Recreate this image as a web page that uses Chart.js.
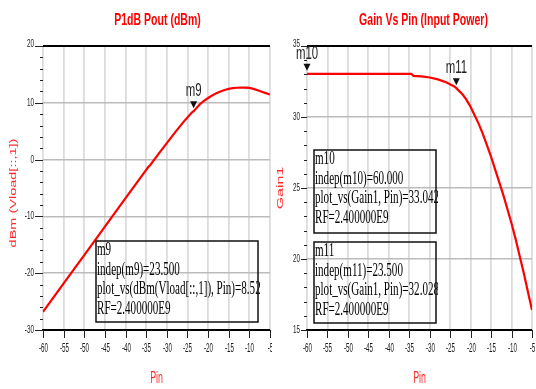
<!DOCTYPE html>
<html>
<head>
<meta charset="utf-8">
<script src="https://cdn.jsdelivr.net/npm/chart.js@4.4.1/dist/chart.umd.min.js"></script>
<style>
  html, body { margin: 0; padding: 0; background: #fff; }
  #wrap { position: relative; width: 536px; height: 389px; }
  canvas { position: absolute; top: 0; }
  #c1 { left: 0; }
  #c2 { left: 272px; }
</style>
</head>
<body>
<div id="wrap">
  <canvas id="c1" width="272" height="389"></canvas>
  <canvas id="c2" width="264" height="389"></canvas>
</div>
<script>
// swept input power (dBm)
const pin = [-60, -55, -50, -45, -40, -35, -34.5, -34, -32, -30, -28, -26, -24, -23.5, -22, -21,
  -20, -19, -18, -17, -16, -15, -14, -13, -12, -11, -10, -9, -8, -7, -6, -5];
// output power dBm(Vload[::,1])
const poutDbm = [-26.8, -21.8, -16.8, -11.8, -6.8, -1.8, -1.3, -0.95, 1.0, 2.9, 4.8, 6.6, 8.25, 8.53, 9.75, 10.35,
  10.85, 11.3, 11.7, 12.0, 12.25, 12.45, 12.6, 12.65, 12.68, 12.68, 12.62, 12.45, 12.2, 11.95, 11.7, 11.45];
// Gain1
const gain1 = [33.04, 33.04, 33.04, 33.04, 33.04, 33.04, 33.04, 32.9, 32.86, 32.78, 32.65, 32.45, 32.15, 32.03, 31.6, 31.2,
  30.7, 30.1, 29.5, 28.8, 28.0, 27.2, 26.3, 25.4, 24.5, 23.5, 22.5, 21.4, 20.2, 19.0, 17.7, 16.4];

const pinTicks = [-60, -55, -50, -45, -40, -35, -30, -25, -20, -15, -10, -5];
const poutTicks = [-30, -20, -10, 0, 10, 20];
const gainTicks = [15, 20, 25, 30, 35];

// markers: name, index into pin[], readout text
const m9 = { name: 'm9', idx: 13, lines: ['m9', 'indep(m9)=23.500', 'plot_vs(dBm(Vload[::,1]), Pin)=8.528', 'RF=2.400000E9'] };
const m10 = { name: 'm10', idx: 0, lines: ['m10', 'indep(m10)=60.000', 'plot_vs(Gain1, Pin)=33.042', 'RF=2.400000E9'] };
const m11 = { name: 'm11', idx: 13, lines: ['m11', 'indep(m11)=23.500', 'plot_vs(Gain1, Pin)=32.028', 'RF=2.400000E9'] };

function txt(ctx, s, x, y, o) {
  ctx.save();
  ctx.translate(x, y);
  if (o.rot) ctx.rotate(-Math.PI / 2);
  ctx.scale(o.sx || 1, o.sy || 1);
  ctx.font = o.font;
  ctx.fillStyle = o.color || '#000';
  ctx.textAlign = o.align || 'center';
  ctx.textBaseline = o.base || 'middle';
  ctx.fillText(s, 0, 0);
  ctx.restore();
}

// draws the ADS style frame, ticks, labels, markers and readout boxes
const adsFrame = {
  id: 'adsFrame',
  afterDraw(chart, args, opt) {
    const ctx = chart.ctx, a = chart.chartArea;
    const xs = chart.scales.x, ys = chart.scales.y;
    ctx.save();

    ctx.strokeStyle = '#000';
    ctx.lineWidth = 2;
    ctx.beginPath();
    ctx.moveTo(a.left, a.top); ctx.lineTo(a.right, a.top);
    ctx.moveTo(a.left - 1, a.bottom); ctx.lineTo(a.right, a.bottom);
    ctx.stroke();

    // y ticks, majors get a label
    ctx.lineWidth = 1;
    ctx.strokeStyle = '#222';
    ys.ticks.forEach(t => {
      const y = Math.round(ys.getPixelForValue(t.value)) + 0.5;
      const major = opt.yMajor.includes(t.value);
      ctx.beginPath();
      ctx.moveTo(a.left - (major ? opt.tickLen : 3), y);
      ctx.lineTo(a.left, y);
      ctx.stroke();
      if (major) {
        const dy = t.value === ys.max ? -3 : -1;
        txt(ctx, String(t.value), a.left - opt.tickLen - 1, y + dy,
          { font: '11.5px "Liberation Sans"', sx: 0.55, align: 'right', color: '#1a1a1a' });
      }
    });

    // x ticks below the axis
    pinTicks.forEach(v => {
      const x = Math.round(xs.getPixelForValue(v)) + 0.5;
      ctx.beginPath();
      ctx.moveTo(x, a.bottom); ctx.lineTo(x, a.bottom + 8);
      ctx.stroke();
      txt(ctx, String(v), x, a.bottom + 19, { font: '12px "Liberation Sans"', sx: 0.52, color: '#1a1a1a' });
    });

    // titles
    const cx = (a.left + a.right) / 2;
    txt(ctx, opt.title, cx + opt.titleDx, 20, { font: 'bold 17px "Liberation Sans"', sx: 0.62, color: '#ff0000' });
    txt(ctx, 'Pin', cx, 379, { font: '16px "Liberation Sans"', sx: 0.55, color: '#ff2a2a' });
    txt(ctx, opt.yTitle, opt.yTitleX, opt.yTitleY,
      { font: opt.yTitleSize + 'px "Liberation Sans"', rot: true, sy: 0.62, color: '#ff2a2a' });

    // marker triangles and names
    const data = chart.data.datasets[0].data;
    opt.markers.forEach(m => {
      const p = data[m.idx];
      const px = xs.getPixelForValue(p.x), py = ys.getPixelForValue(p.y);
      ctx.fillStyle = '#111';
      ctx.beginPath();
      ctx.moveTo(px, py - 3);
      ctx.lineTo(px - 3.5, py - 10);
      ctx.lineTo(px + 3.5, py - 10);
      ctx.closePath();
      ctx.fill();
      txt(ctx, m.name, px, py - 20, { font: '19px "Liberation Sans"', sx: 0.6, color: '#222' });
    });

    // readout boxes
    opt.boxes.forEach(b => {
      const x0 = Math.round(xs.getPixelForValue(b.x0)), x1 = Math.round(xs.getPixelForValue(b.x1));
      const y0 = Math.round(ys.getPixelForValue(b.y0)), y1 = Math.round(ys.getPixelForValue(b.y1));
      ctx.save();
      ctx.beginPath();
      ctx.rect(x0, y0 - 2, x1 - x0 + 2, y1 - y0 + 2);
      ctx.clip();
      b.marker.lines.forEach((s, i) => {
        txt(ctx, s, x0 + 1, y0 + 14 + i * 19.5,
          { font: '18px "Liberation Serif"', sx: 0.615, align: 'left', base: 'alphabetic', color: '#000' });
      });
      ctx.restore();
      ctx.strokeStyle = '#111';
      ctx.lineWidth = 1.5;
      ctx.strokeRect(x0, y0, x1 - x0, y1 - y0);
    });

    ctx.restore();
  }
};

function makeChart(id, values, yMin, yMax, yStep, yMajor, pad, yWidth, frame) {
  return new Chart(document.getElementById(id), {
    type: 'line',
    data: {
      datasets: [{
        data: pin.map((p, i) => ({ x: p, y: values[i] })),
        borderColor: '#ff0000',
        borderWidth: 2.2,
        pointRadius: 0,
        tension: 0,
        fill: false
      }]
    },
    options: {
      responsive: false,
      animation: false,
      devicePixelRatio: 1,
      layout: { padding: pad },
      scales: {
        x: {
          type: 'linear', min: -60, max: -5,
          ticks: { stepSize: 5, display: false },
          grid: { color: '#dcdcdc', lineWidth: 1.8, drawTicks: false },
          border: { display: false },
          afterFit: s => { s.height = 59; }
        },
        y: {
          type: 'linear', min: yMin, max: yMax,
          ticks: { stepSize: yStep, display: false },
          grid: {
            color: c => yMajor.includes(c.tick.value) ? '#bcbcbc' : 'rgba(0,0,0,0)',
            lineWidth: 1.6, drawTicks: false
          },
          border: { display: false },
          afterFit: s => { s.width = yWidth; }
        }
      },
      plugins: {
        legend: { display: false },
        tooltip: { enabled: false },
        adsFrame: Object.assign({ yMajor: yMajor }, frame)
      }
    },
    plugins: [adsFrame]
  });
}

makeChart('c1', poutDbm, -30, 20, 2, poutTicks, { left: 0, top: 46, right: 2, bottom: 0 }, 43, {
  title: 'P1dB Pout (dBm)', titleDx: 1, tickLen: 8,
  yTitle: 'dBm (Vload[::,1])', yTitleSize: 14.5, yTitleX: 14, yTitleY: 193,
  markers: [m9],
  boxes: [{ marker: m9, x0: -47.2, x1: -7.9, y0: -14.3, y1: -28.6 }]
});

makeChart('c2', gain1, 15, 35, 1, gainTicks, { left: 0, top: 46, right: 4, bottom: 0 }, 35, {
  title: 'Gain Vs Pin (Input Power)', titleDx: 4, tickLen: 6,
  yTitle: 'Gain1', yTitleSize: 16, yTitleX: 8, yTitleY: 188,
  markers: [m10, m11],
  boxes: [
    { marker: m10, x0: -58.3, x1: -28.35, y0: 27.68, y1: 21.8 },
    { marker: m11, x0: -58.3, x1: -28.35, y0: 21.2, y1: 15.5 }
  ]
});
</script>
</body>
</html>
